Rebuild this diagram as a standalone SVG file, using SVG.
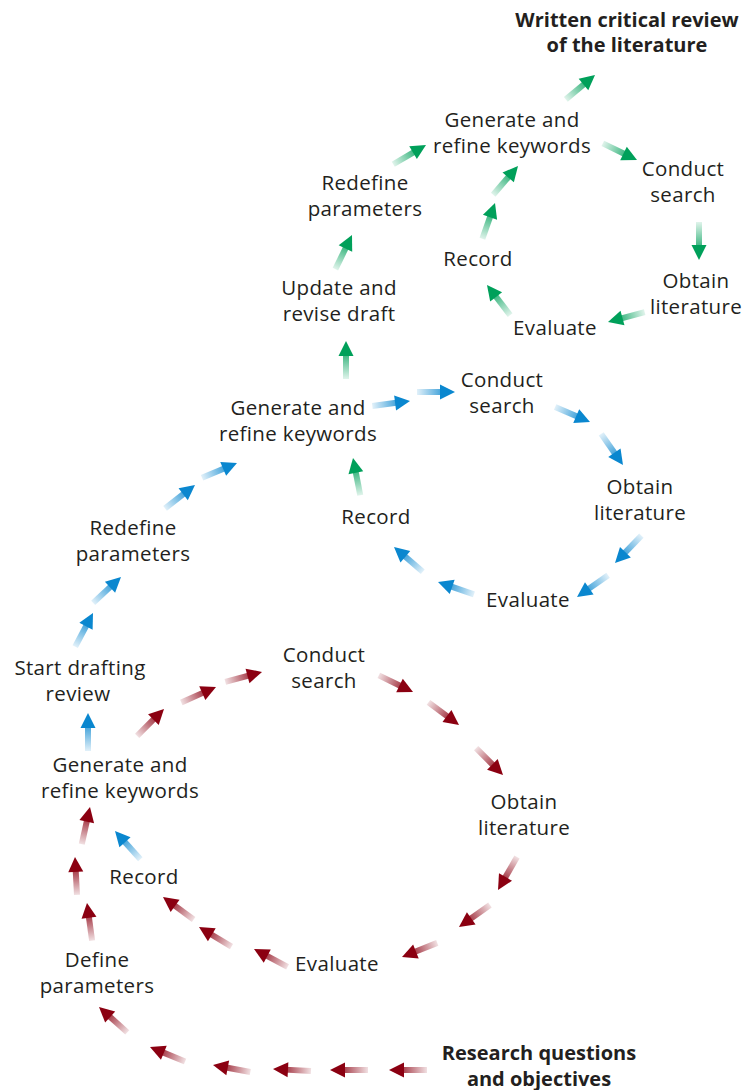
<svg xmlns="http://www.w3.org/2000/svg" xmlns:xlink="http://www.w3.org/1999/xlink" width="743" height="1090" viewBox="0 0 743 1090">
<defs>
<style>
text{font-family:"Open Sans","Noto Sans","Liberation Sans",sans-serif;font-size:20.5px;letter-spacing:0.35px;fill:#231f20;text-anchor:middle}
.b{font-weight:bold;font-size:20px;letter-spacing:0}
</style>
<linearGradient id="gR" gradientUnits="userSpaceOnUse" x1="-38" y1="0" x2="-12" y2="0"><stop offset="0" stop-color="#8b0011" stop-opacity="0.12"/><stop offset="1" stop-color="#8b0011" stop-opacity="0.8"/></linearGradient>
<linearGradient id="gB" gradientUnits="userSpaceOnUse" x1="-38" y1="0" x2="-12" y2="0"><stop offset="0" stop-color="#0a87cf" stop-opacity="0.12"/><stop offset="1" stop-color="#0a87cf" stop-opacity="0.8"/></linearGradient>
<linearGradient id="gG" gradientUnits="userSpaceOnUse" x1="-38" y1="0" x2="-12" y2="0"><stop offset="0" stop-color="#00a05a" stop-opacity="0.12"/><stop offset="1" stop-color="#00a05a" stop-opacity="0.8"/></linearGradient>
<g id="aR"><rect x="-38" y="-3" width="26" height="6" fill="url(#gR)"/><path d="M0,0 L-15,-7.5 L-15,7.5 Z" fill="#8b0011"/></g>
<g id="aB"><rect x="-38" y="-3" width="26" height="6" fill="url(#gB)"/><path d="M0,0 L-15,-7.5 L-15,7.5 Z" fill="#0a87cf"/></g>
<g id="aG"><rect x="-38" y="-3" width="26" height="6" fill="url(#gG)"/><path d="M0,0 L-15,-7.5 L-15,7.5 Z" fill="#00a05a"/></g>
</defs>
<rect width="743" height="1090" fill="#fff"/>
<g id="connectors">
<use href="#aR" transform="translate(389,1070) rotate(180)"/>
<use href="#aR" transform="translate(330,1070) rotate(180)"/>
<use href="#aR" transform="translate(273,1069) rotate(183)"/>
<use href="#aR" transform="translate(213,1065) rotate(190.7)"/>
<use href="#aR" transform="translate(150,1047) rotate(202.6)"/>
<use href="#aR" transform="translate(99,1007) rotate(221.9)"/>
<use href="#aR" transform="translate(87,903) rotate(262.3)"/>
<use href="#aR" transform="translate(75,857) rotate(-93)"/>
<use href="#aR" transform="translate(90,807) rotate(-77.5)"/>
<use href="#aR" transform="translate(164,709) rotate(-45)"/>
<use href="#aR" transform="translate(216,687) rotate(-24)"/>
<use href="#aR" transform="translate(262,672) rotate(-15)"/>
<use href="#aR" transform="translate(413,692) rotate(25.9)"/>
<use href="#aR" transform="translate(459,725) rotate(36.6)"/>
<use href="#aR" transform="translate(503,775) rotate(45)"/>
<use href="#aR" transform="translate(498,890) rotate(120)"/>
<use href="#aR" transform="translate(459,927) rotate(144.6)"/>
<use href="#aR" transform="translate(402,957) rotate(158.2)"/>
<use href="#aR" transform="translate(254,949) rotate(207.9)"/>
<use href="#aR" transform="translate(199,927) rotate(211.2)"/>
<use href="#aR" transform="translate(163,897) rotate(216.3)"/>

<use href="#aB" transform="translate(115,831) rotate(228.2)"/>
<use href="#aB" transform="translate(88,713) rotate(-90)"/>
<use href="#aB" transform="translate(93,613) rotate(-62.1)"/>
<use href="#aB" transform="translate(121,577) rotate(-42.9)"/>
<use href="#aB" transform="translate(195,485) rotate(-38)"/>
<use href="#aB" transform="translate(237,463) rotate(-23)"/>
<use href="#aB" transform="translate(410,401) rotate(-7.5)"/>
<use href="#aB" transform="translate(455,392) rotate(0)"/>
<use href="#aB" transform="translate(590,422) rotate(23.4)"/>
<use href="#aB" transform="translate(623,465) rotate(55)"/>
<use href="#aB" transform="translate(615,563) rotate(134)"/>
<use href="#aB" transform="translate(577,597) rotate(145)"/>
<use href="#aB" transform="translate(438,582) rotate(198.9)"/>
<use href="#aB" transform="translate(394,547) rotate(220.8)"/>

<use href="#aG" transform="translate(353,458) rotate(-101)"/>
<use href="#aG" transform="translate(346,341) rotate(-90)"/>
<use href="#aG" transform="translate(352,235) rotate(-64.1)"/>
<use href="#aG" transform="translate(426,145) rotate(-30.5)"/>
<use href="#aG" transform="translate(595,75) rotate(-39.8)"/>
<use href="#aG" transform="translate(637,160) rotate(25.9)"/>
<use href="#aG" transform="translate(699,260) rotate(90)"/>
<use href="#aG" transform="translate(608,322) rotate(164.9)"/>
<use href="#aG" transform="translate(487,285) rotate(232.5)"/>
<use href="#aG" transform="translate(495,203) rotate(-70.6)"/>
<use href="#aG" transform="translate(518,166) rotate(-49.2)"/>
</g>

<g id="written-review"><text class="b" x="627" y="27">Written critical review</text><text class="b" x="627" y="52">of the literature</text></g>
<g id="g3-generate"><text x="512" y="127">Generate and</text><text x="512" y="153">refine keywords</text></g>
<g id="g3-conduct"><text x="683" y="176">Conduct</text><text x="683" y="202">search</text></g>
<g id="g3-redefine"><text x="365" y="190">Redefine</text><text x="365" y="216">parameters</text></g>
<g id="g3-record"><text x="478" y="266">Record</text></g>
<g id="g3-obtain"><text x="696" y="288">Obtain</text><text x="696" y="314">literature</text></g>
<g id="update-draft"><text x="339" y="295">Update and</text><text x="339" y="321">revise draft</text></g>
<g id="g3-evaluate"><text x="555" y="335">Evaluate</text></g>

<g id="g2-conduct"><text x="502" y="387">Conduct</text><text x="502" y="413">search</text></g>
<g id="g2-generate"><text x="298" y="415">Generate and</text><text x="298" y="441">refine keywords</text></g>
<g id="g2-obtain"><text x="640" y="494">Obtain</text><text x="640" y="520">literature</text></g>
<g id="g2-record"><text x="376" y="524">Record</text></g>
<g id="g2-redefine"><text x="133" y="535">Redefine</text><text x="133" y="561">parameters</text></g>
<g id="g2-evaluate"><text x="528" y="607">Evaluate</text></g>

<g id="start-drafting"><text x="80" y="675">Start drafting</text><text x="78" y="701">review</text></g>
<g id="g1-conduct"><text x="324" y="662">Conduct</text><text x="324" y="688">search</text></g>
<g id="g1-generate"><text x="120" y="772">Generate and</text><text x="120" y="798">refine keywords</text></g>
<g id="g1-obtain"><text x="524" y="809">Obtain</text><text x="524" y="835">literature</text></g>
<g id="g1-record"><text x="144" y="884">Record</text></g>
<g id="define-parameters"><text x="97" y="967">Define</text><text x="97" y="993">parameters</text></g>
<g id="g1-evaluate"><text x="337" y="971">Evaluate</text></g>
<g id="research-questions"><text class="b" x="539" y="1060">Research questions</text><text class="b" x="539" y="1086">and objectives</text></g>
</svg>
